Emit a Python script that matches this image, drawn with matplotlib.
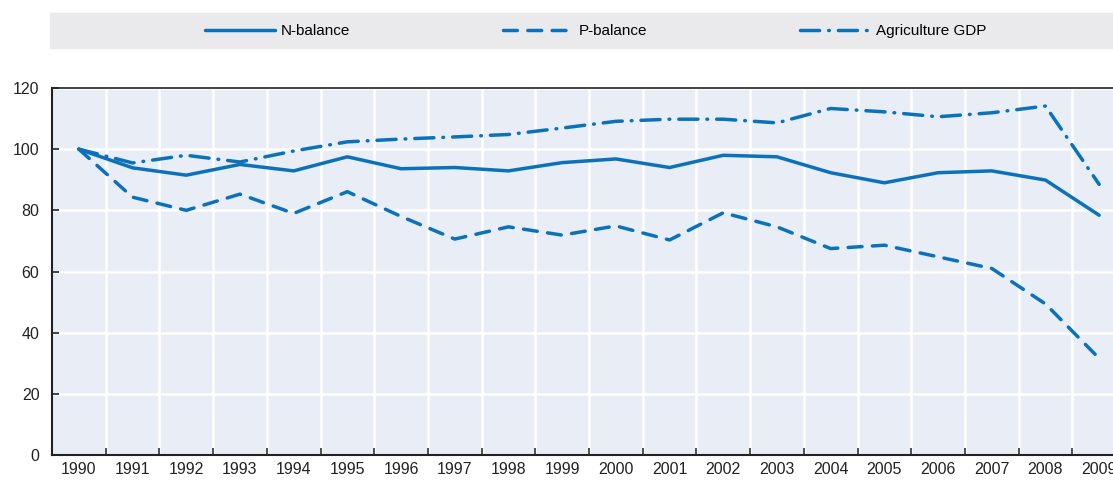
import matplotlib
matplotlib.use("Agg")
import matplotlib.pyplot as plt
from matplotlib.patches import Rectangle

years = list(range(1990, 2010))
n_balance = [100, 93.9, 91.5, 95.0, 92.9, 97.5, 93.6, 94.0, 92.9, 95.6, 96.8,
             94.0, 98.0, 97.5, 92.3, 89.0, 92.3, 92.9, 89.9, 78.4]
p_balance = [100, 84.3, 80.0, 85.3, 79.0, 86.1, 78.0, 70.6, 74.6, 71.9, 74.9,
             70.3, 79.2, 74.6, 67.5, 68.6, 64.8, 61.0, 49.4, 31.6]
agri_gdp = [100, 95.5, 98.0, 95.8, 99.4, 102.4, 103.3, 104.0, 104.8, 106.9, 109.1,
            109.8, 109.8, 108.6, 113.3, 112.2, 110.6, 111.9, 114.1, 88.5]
series_names = ['N-balance', 'P-balance', 'Agriculture GDP']

plt.rcParams['font.family'] = ['Liberation Sans Narrow', 'Liberation Sans', 'DejaVu Sans']

blue = '#0B72BA'
fig = plt.figure(figsize=(11.13, 4.8), dpi=100)
ax = fig.add_axes([52 / 1113, 1 - 455 / 480, (1126 - 52) / 1113, (455 - 88) / 480])
ax.set_facecolor('#E8EDF6')

x = list(range(len(years)))
l1, = ax.plot(x, n_balance, color=blue, lw=2.5, solid_capstyle='round')
l2, = ax.plot(x, p_balance, color=blue, lw=2.5, dashes=(4, 3), dash_capstyle='round')
l3, = ax.plot(x, agri_gdp, color=blue, lw=2.5, dashes=(5.5, 2.6, 0.2, 2.6),
              dash_capstyle='round')

ax.set_xlim(-0.5, len(years) - 0.5)
ax.set_ylim(0, 120)
ax.set_yticks(range(0, 121, 20))
ax.set_xticks([i + 0.5 for i in x[:-1]])
ax.set_xticklabels([])
ax.set_xticks(x, minor=True)
ax.set_xticklabels([str(y) for y in years], minor=True)
ax.tick_params(axis='x', which='minor', length=0, labelsize=11.5, pad=5, colors='#222222')
ax.tick_params(axis='x', which='major', direction='in', length=5, width=1.2, color='#333333')
ax.tick_params(axis='y', direction='in', length=5, width=1.2, labelsize=11.5, pad=9,
               colors='#222222')
ax.grid(True, which='major', color='white', lw=1.8)
ax.set_axisbelow(True)
for side in ['left', 'bottom', 'top']:
    ax.spines[side].set_color('#222222')
    ax.spines[side].set_linewidth(1.5)
ax.spines['top'].set_linewidth(1.2)
ax.spines['right'].set_visible(False)

# grey legend band across the top
fig.patches.append(Rectangle((50 / 1113, 1 - 48 / 480), 1, 35 / 480,
                             transform=fig.transFigure, color='#EAEAEC', zorder=0))
for handle, name, x0 in zip([l1, l2, l3], series_names, [205, 503, 800]):
    fig.legend([handle], [name], loc='center left',
               bbox_to_anchor=(x0 / 1113, 1 - 31 / 480), frameon=False,
               fontsize=11, handlelength=4.6, handletextpad=0.35,
               borderpad=0, borderaxespad=0)

fig.savefig('out.png', dpi=100)
